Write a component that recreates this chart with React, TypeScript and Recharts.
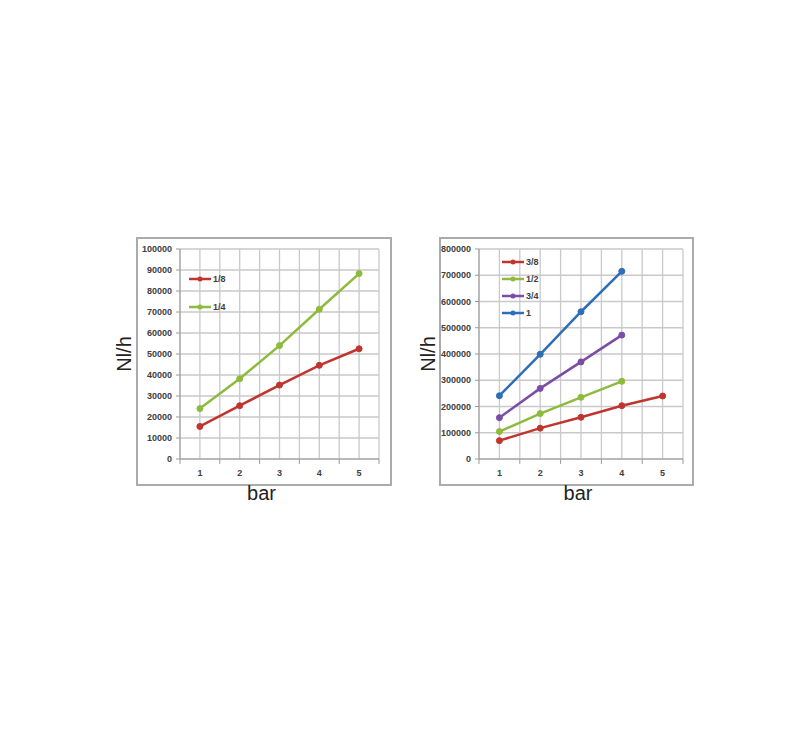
import {
  LineChart,
  Line,
  XAxis,
  YAxis,
  CartesianGrid,
  Legend,
} from "recharts";

// pressure (bar) on the x axis
const pressures = [1, 2, 3, 4, 5];
// category boundaries + centres, used for the grid and the small boundary ticks
const xTicks = [0.5, 1, 1.5, 2, 2.5, 3, 3.5, 4, 4.5, 5, 5.5];

// left chart: flow Nl/h per nozzle size
const flowEighth = [15500, 25400, 35200, 44600, 52500];
const flowQuarter = [24000, 38200, 54000, 71300, 88300];
const leftTicks = [0, 10000, 20000, 30000, 40000, 50000, 60000, 70000, 80000, 90000, 100000];

// right chart
const flowThreeEighths = [70000, 117500, 159000, 203000, 240000];
const flowHalf = [104500, 173000, 235000, 296000];
const flowThreeQuarter = [157500, 269000, 370000, 472000];
const flowOne = [241000, 399000, 561000, 715000];
const rightTicks = [0, 100000, 200000, 300000, 400000, 500000, 600000, 700000, 800000];

const leftSeries = [
  { key: "e", name: "1/8", color: "#c0352f", values: flowEighth },
  { key: "q", name: "1/4", color: "#8dbb3e", values: flowQuarter },
];

const rightSeries = [
  { key: "te", name: "3/8", color: "#c0352f", values: flowThreeEighths },
  { key: "h", name: "1/2", color: "#8dbb3e", values: flowHalf },
  { key: "tq", name: "3/4", color: "#7b4ea6", values: flowThreeQuarter },
  { key: "o", name: "1", color: "#2e6db8", values: flowOne },
];

const FONT = "'Liberation Sans', Arial, sans-serif";
const TICK_SIZE = 5;
const TICK_MARGIN = 6;

const buildRows = (series: typeof leftSeries) =>
  pressures.map((p, i) => {
    const row: Record<string, number | undefined> = { bar: p };
    series.forEach((s) => {
      row[s.key] = s.values[i];
    });
    return row;
  });

// integers get a label, half steps get a little tick mark below the axis
const XTick = (props: any) => {
  const { x, y, payload } = props;
  const v = payload.value;
  if (Number.isInteger(v)) {
    return (
      <text
        x={x}
        y={y}
        dy="0.71em"
        textAnchor="middle"
        fontSize={9}
        fontWeight={700}
        fill="#404040"
        fontFamily={FONT}
      >
        {v}
      </text>
    );
  }
  return (
    <line
      x1={x}
      x2={x}
      y1={y - TICK_SIZE - TICK_MARGIN}
      y2={y - TICK_MARGIN}
      stroke="#9a9a9a"
    />
  );
};

// keep the legend in the series order (recharts sorts it otherwise)
const makeLegend = (series: typeof leftSeries, rowHeight: number) => (props: any) => {
  const payload = [...(props.payload || [])].sort(
    (a: any, b: any) =>
      series.findIndex((s) => s.name === a.value) -
      series.findIndex((s) => s.name === b.value)
  );
  return (
    <div style={{ fontFamily: FONT, fontSize: 9, fontWeight: 700, color: "#404040" }}>
      {payload.map((entry: any) => (
        <div
          key={entry.value}
          style={{ display: "flex", alignItems: "center", height: rowHeight }}
        >
          <svg width={22} height={8}>
            <line x1={0} x2={22} y1={4} y2={4} stroke={entry.color} strokeWidth={2.5} />
            <circle cx={11} cy={4} r={2.5} fill={entry.color} />
          </svg>
          <span style={{ marginLeft: 2 }}>{entry.value}</span>
        </div>
      ))}
    </div>
  );
};

type PanelProps = {
  series: typeof leftSeries;
  yTicks: number[];
  yMax: number;
  svgLeft: number;
  boxLeft: number;
  boxRight: number;
  yAxisWidth: number;
  marginRight: number;
  legendLeft: number;
  legendTop: number;
  legendRow: number;
  barShift: number;
};

function Panel(p: PanelProps) {
  const width = p.boxRight - p.svgLeft;
  return (
    <>
      <div
        style={{
          position: "absolute",
          left: p.boxLeft,
          top: 237,
          width: p.boxRight - p.boxLeft - 2,
          height: 484 - 237 - 2,
          border: "2px solid #ababab",
        }}
      />
      <div style={{ position: "absolute", left: p.svgLeft, top: 237 }}>
        <LineChart
          width={width}
          height={270}
          data={buildRows(p.series)}
          margin={{ top: 12, right: p.marginRight, left: 0, bottom: 0 }}
        >
          <CartesianGrid stroke="#c9c9c9" strokeWidth={1.3} />
          <XAxis
            dataKey="bar"
            type="number"
            domain={[0.5, 5.5]}
            ticks={xTicks}
            interval={0}
            height={48}
            tickLine={false}
            tickSize={TICK_SIZE}
            tickMargin={TICK_MARGIN}
            tick={<XTick />}
            stroke="#9a9a9a"
            label={{
              value: "bar",
              position: "insideBottom",
              offset: 7,
              dx: p.barShift,
              fontSize: 20,
              fill: "#222",
              fontFamily: FONT,
            }}
          />
          <YAxis
            width={p.yAxisWidth}
            domain={[0, p.yMax]}
            ticks={p.yTicks}
            interval={0}
            tickSize={4}
            tickMargin={4}
            stroke="#9a9a9a"
            tick={{ fontSize: 9, fontWeight: 700, fill: "#404040", fontFamily: FONT }}
            label={{
              value: "Nl/h",
              angle: -90,
              position: "insideLeft",
              offset: 24,
              fontSize: 20,
              fill: "#222",
              fontFamily: FONT,
              style: { textAnchor: "middle" },
            }}
          />
          <Legend
            layout="vertical"
            align="center"
            verticalAlign="middle"
            wrapperStyle={{ left: p.legendLeft, top: p.legendTop, width: "auto" }}
            content={makeLegend(p.series, p.legendRow)}
          />
          {p.series.map((s) => (
            <Line
              key={s.key}
              dataKey={s.key}
              name={s.name}
              stroke={s.color}
              strokeWidth={2.5}
              dot={{ r: 3, fill: s.color, stroke: s.color, strokeWidth: 1 }}
              isAnimationActive={false}
            />
          ))}
        </LineChart>
      </div>
    </>
  );
}

export default function App() {
  return (
    <div
      style={{
        position: "absolute",
        left: 0,
        top: 0,
        width: 806,
        height: 736,
        background: "#fff",
      }}
    >
      <Panel
        series={leftSeries}
        yTicks={leftTicks}
        yMax={100000}
        svgLeft={100}
        boxLeft={136}
        boxRight={390}
        yAxisWidth={80}
        marginRight={11}
        legendLeft={89}
        legendTop={28}
        legendRow={28}
        barShift={-18}
      />
      <Panel
        series={rightSeries}
        yTicks={rightTicks}
        yMax={800000}
        svgLeft={404}
        boxLeft={439}
        boxRight={692}
        yAxisWidth={75}
        marginRight={9}
        legendLeft={98}
        legendTop={16}
        legendRow={17}
        barShift={-3}
      />
    </div>
  );
}
